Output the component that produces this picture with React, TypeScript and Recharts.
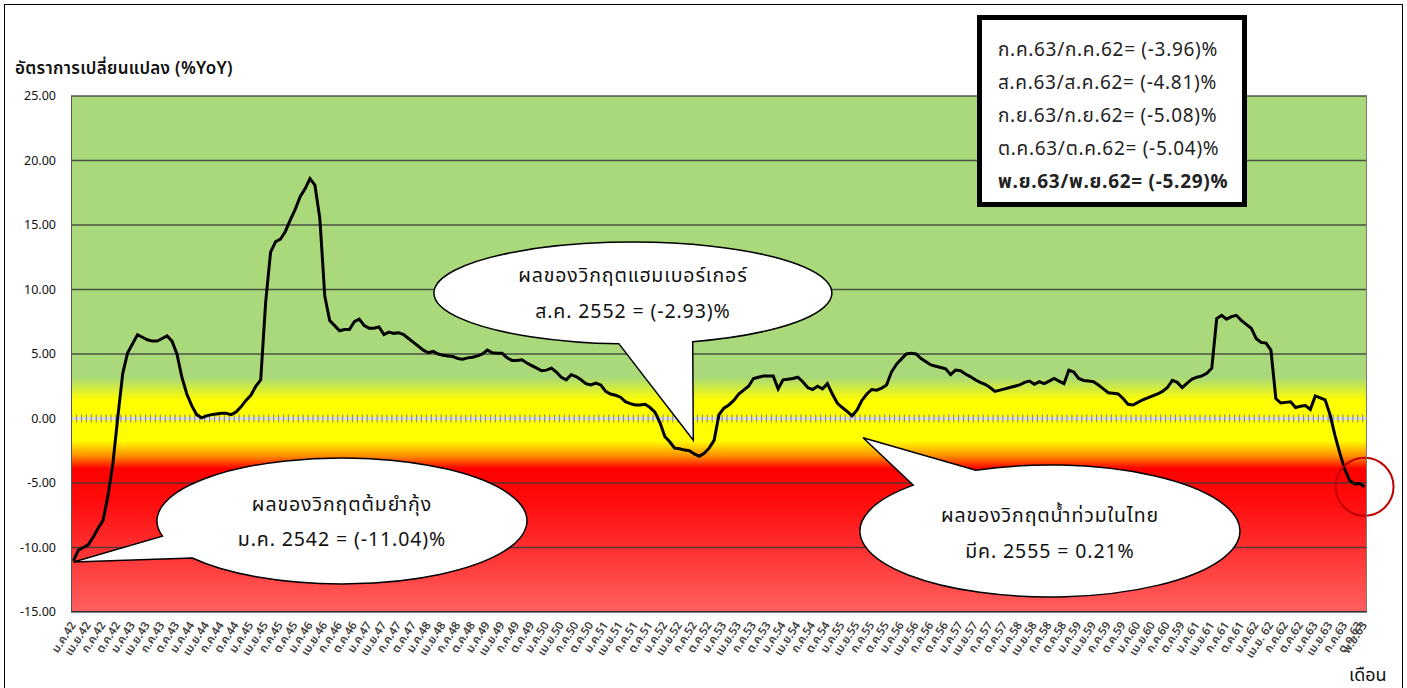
import React from "react";
import {
  LineChart,
  Line,
  XAxis,
  YAxis,
  CartesianGrid,
  ReferenceLine,
  ReferenceDot,
} from "recharts";

const FONT = "Tahoma, 'Noto Sans Thai', 'Leelawadee UI', 'Noto Sans', sans-serif";

const monthAbbr = ["ม.ค.", "ก.พ.", "มี.ค.", "เม.ย.", "พ.ค.", "มิ.ย.", "ก.ค.", "ส.ค.", "ก.ย.", "ต.ค.", "พ.ย.", "ธ.ค."];

// months ม.ค.42 .. พ.ย.63
const categories: string[] = [];
for (let y = 42; y <= 63; y++) {
  for (let m = 0; m < 12; m++) {
    if (y === 63 && m > 10) break;
    categories.push(`${monthAbbr[m]}${y}`);
  }
}

// %YoY
const yoy = [
  -11.04, -10.2, -10.0, -9.8, -9.2, -8.5, -7.9, -6.0, -3.5, 0.1,
  3.5, 5.1, 5.8, 6.5, 6.3, 6.1, 6.0, 6.0, 6.2, 6.4,
  6.0, 5.0, 3.2, 1.9, 1.0, 0.3, 0.05, 0.2, 0.3, 0.35,
  0.4, 0.4, 0.3, 0.5, 0.9, 1.4, 1.8, 2.5, 3.0, 9.0,
  12.9, 13.7, 13.9, 14.5, 15.4, 16.2, 17.2, 17.8, 18.6, 18.1,
  15.5, 9.5, 7.6, 7.2, 6.8, 6.9, 6.9, 7.5, 7.7, 7.2,
  7.0, 7.0, 7.1, 6.5, 6.7, 6.6, 6.65, 6.5, 6.2, 5.9,
  5.6, 5.3, 5.1, 5.2, 5.0, 4.9, 4.85, 4.8, 4.65, 4.6,
  4.7, 4.75, 4.85, 5.0, 5.3, 5.1, 5.05, 5.05, 4.7, 4.5,
  4.5, 4.55, 4.3, 4.1, 3.9, 3.7, 3.75, 3.9, 3.6, 3.2,
  3.0, 3.4, 3.25, 3.0, 2.7, 2.6, 2.75, 2.6, 2.1, 1.9,
  1.8, 1.65, 1.3, 1.15, 1.05, 1.05, 1.1, 0.85, 0.5, -0.3,
  -1.4, -1.8, -2.3, -2.35, -2.45, -2.5, -2.75, -2.93, -2.7, -2.3,
  -1.7, 0.3, 0.8, 1.05, 1.4, 1.9, 2.2, 2.5, 3.1, 3.2,
  3.3, 3.3, 3.3, 2.3, 3.0, 3.05, 3.1, 3.2, 2.85, 2.4,
  2.25, 2.5, 2.3, 2.7, 1.9, 1.2, 0.85, 0.55, 0.21, 0.65,
  1.4, 1.9, 2.25, 2.2, 2.35, 2.6, 3.6, 4.2, 4.6, 5.0,
  5.05, 5.0, 4.65, 4.4, 4.15, 4.05, 3.95, 3.85, 3.4, 3.75,
  3.7, 3.45, 3.25, 3.0, 2.8, 2.65, 2.4, 2.1, 2.2, 2.3,
  2.4, 2.5, 2.6, 2.8, 2.9, 2.65, 2.85, 2.7, 2.9, 3.1,
  2.9, 2.7, 3.75, 3.6, 3.1, 2.95, 2.9, 2.85, 2.6, 2.3,
  2.0, 1.95, 1.9, 1.55, 1.1, 1.05, 1.25, 1.45, 1.6, 1.75,
  1.9, 2.1, 2.4, 2.95, 2.8, 2.4, 2.75, 3.05, 3.2, 3.3,
  3.5, 3.9, 7.75, 8.0, 7.7, 7.9, 8.0, 7.6, 7.3, 7.0,
  6.2, 5.9, 5.85, 5.3, 1.55, 1.2, 1.25, 1.3, 0.85, 0.95,
  1.0, 0.7, 1.75, 1.6, 1.45, 0.3, -1.3, -2.7, -3.96, -4.81,
  -5.08, -5.04, -5.29,
];

// quarterly labels as printed (typos kept)
const tickLabels = [
  "ม.ค.42", "เม.ย.42", "ก.ค.42", "ต.ค.42", "ม.ค.43", "เม.ย.43", "ก.ค.43", "ต.ค.43",
  "ม.ค.44", "เม.ย.44", "ก.ค.44", "ต.ค.44", "ม.ค.45", "เม.ย.45", "ก.ค.45", "ต.ค.45",
  "ม.ค.46", "เม.ย.46", "ก.ค.46", "ต.ค.46", "ม.ค.47", "เม.ย.47", "ก.ค.47", "ต.ค.47",
  "ม.ค.48", "เม.ย.48", "ก.ค.48", "ต.ค.48", "ม.ค.49", "เม.ย.49", "ก.ค.49", "ต.ค.49",
  "ม.ค.50", "เม.ย.50", "ก.ค.50", "ต.ค.50", "ม.ค.51", "เม.ย.51", "ก.ค.51", "ต.ค.51",
  "ม.ค.52", "เม.ย.52", "ก.ค.52", "ต.ค.52", "ม.ค.53", "เม.ย.53", "ก.ค.53", "ต.ค.53",
  "ม.ค.54", "เม.ย.54", "ก.ค.54", "ต.ค.54", "ม.ค.55", "เม.ย.55", "ก.ค.55", "ต.ค.55",
  "ม.ค.56", "เม.ย.56", "ก.ค.56", "ต.ค.56", "ม.ค.57", "เม.ย.57", "ก.ค.57", "ต.ค.57",
  "ม.ค.58", "เม.ย.58", "ก.ค.58", "ต.ค.58", "ม.ค.59", "เม.ย.59", "ก.ค.59", "ต.ค.59",
  "ม.ค.60", "เม.ย.60", "ก.ค.60", "ต.ค.59", "ม.ค.61", "เม.ย.61", "ก.ค.61", "ต.ค.61",
  "ม.ค.62", "เม.ย. 62", "ก.ค.62", "ต.ค.62", "ม.ค.63", "เม.ย.63", "ก.ค.63", "ต.ค.63",
  "พ.ย.63",
];

const yTicks = [-15, -10, -5, 0, 5, 10, 15, 20, 25];

const boxLines = [
  "ก.ค.63/ก.ค.62= (-3.96)%",
  "ส.ค.63/ส.ค.62= (-4.81)%",
  "ก.ย.63/ก.ย.62= (-5.08)%",
  "ต.ค.63/ต.ค.62= (-5.04)%",
  "พ.ย.63/พ.ย.62= (-5.29)%",
];

const data = categories.map((m, i) => ({ m, v: yoy[i] }));

const tickLabelAt = (i: number) => {
  if (i === categories.length - 1) return tickLabels[tickLabels.length - 1];
  if (i % 3 === 0) return tickLabels[i / 3];
  return null;
};

const XTick = (props: any) => {
  const { x, y, payload } = props;
  const idx = categories.indexOf(payload.value);
  const label = tickLabelAt(idx);
  if (!label) return <g />;
  const ax = x + 3;
  const ay = y + 5;
  return (
    <text
      x={ax}
      y={ay}
      transform={`rotate(-57 ${ax} ${ay})`}
      textAnchor="end"
      fontSize={11.5}
      fontWeight={600}
      fontFamily={FONT}
      fill="#404040"
    >
      {label}
    </text>
  );
};

const YTick = (props: any) => {
  const { x, y, payload } = props;
  return (
    <text x={x} y={y} dy="0.35em" textAnchor="end" fontSize={12.5} fontFamily={FONT} fill="#111">
      {Number(payload.value).toFixed(2)}
    </text>
  );
};

type Bubble = {
  ox: number; oy: number; rx: number; ry: number;
  a1: number; a2: number; tdx: number; tdy: number;
  lines: string[]; l1: number; l2: number; tx: number;
};

const bubbleShape = (b: Bubble) => (props: any) => {
  const { cx, cy } = props;
  if (cx == null || cy == null) return <g />;
  const ex = cx + b.ox;
  const ey = cy + b.oy;
  const tx = cx + b.tdx;
  const ty = cy + b.tdy;
  const pt = (a: number) => [ex + b.rx * Math.cos((a * Math.PI) / 180), ey + b.ry * Math.sin((a * Math.PI) / 180)];
  const [x1, y1] = pt(b.a1);
  const [x2, y2] = pt(b.a2);
  const d = `M${x2},${y2} A${b.rx},${b.ry} 0 1 1 ${x1},${y1} L${tx},${ty} Z`;
  const txt = { textAnchor: "middle" as const, fontSize: 19.5, fontFamily: FONT, fill: "#111", letterSpacing: 0.9 };
  return (
    <g>
      <path d={d} fill="#fff" stroke="#000" strokeWidth={1.5} />
      <text x={ex + b.tx} y={ey + b.l1} {...txt}>
        {b.lines[0]}
      </text>
      <text x={ex + b.tx} y={ey + b.l2} {...txt}>
        {b.lines[1]}
      </text>
    </g>
  );
};

const bubble1: Bubble = {
  ox: 268.5, oy: -40, rx: 185, ry: 63, a1: 144, a2: 166, tdx: 0, tdy: 1,
  lines: ["ผลของวิกฤตต้มยำกุ้ง", "ม.ค. 2542 = (-11.04)%"], l1: -10, l2: 25, tx: 0,
};
const bubble2: Bubble = {
  ox: -66.4, oy: -163.3, rx: 199, ry: 51, a1: 72.5, a2: 94, tdx: -6, tdy: -16,
  lines: ["ผลของวิกฤตแฮมเบอร์เกอร์", "ส.ค. 2552 = (-2.93)%"], l1: -11, l2: 25, tx: 0,
};
const bubble3: Bubble = {
  ox: 197.9, oy: 115.2, rx: 190, ry: 66, a1: 224, a2: 247, tdx: 11, tdy: 22,
  lines: ["ผลของวิกฤตน้ำท่วมในไทย", "มีค. 2555 = 0.21%"], l1: -9, l2: 27, tx: 0,
};

export default function App() {
  const plotW = 1296;
  const band = plotW / categories.length;
  return (
    <div
      style={{
        position: "absolute",
        left: 0,
        top: 0,
        width: 1407,
        height: 688,
        background: "#fff",
        overflow: "hidden",
        fontFamily: FONT,
      }}
    >
      <div
        style={{
          position: "absolute",
          left: 4,
          top: 4,
          width: 1397,
          height: 700,
          border: "1px solid #000",
        }}
      />
      <div
        style={{
          position: "absolute",
          left: 15,
          top: 56,
          fontSize: 17,
          fontWeight: 600,
          letterSpacing: 0.3,
          color: "#111",
          whiteSpace: "nowrap",
        }}
      >
        อัตราการเปลี่ยนแปลง (%YoY)
      </div>
      <div style={{ position: "absolute", left: 1349, top: 662, fontSize: 18, color: "#111" }}>เดือน</div>

      <div style={{ position: "absolute", left: 0, top: 0 }}>
        <LineChart width={1407} height={688} data={data} margin={{ top: 96, right: 40, bottom: 0, left: 0 }}>
          <defs>
            <linearGradient id="bgGrad" x1="0" y1="0" x2="0" y2="1">
              <stop offset="0" stopColor="#A9D97A" />
              <stop offset="0.545" stopColor="#A9D97A" />
              <stop offset="0.59" stopColor="#FFFF00" />
              <stop offset="0.668" stopColor="#FFFF00" />
              <stop offset="0.698" stopColor="#FF8C00" />
              <stop offset="0.722" stopColor="#FF0000" />
              <stop offset="0.78" stopColor="#FF0A0A" />
              <stop offset="1" stopColor="#FF6060" />
            </linearGradient>
          </defs>
          <CartesianGrid vertical={false} fill="url(#bgGrad)" stroke="#3a3a3a" strokeOpacity={0.85} strokeWidth={1.3} />
          <XAxis
            dataKey="m"
            interval={0}
            axisLine={false}
            tickLine={false}
            height={76}
            padding={{ left: band / 2, right: band / 2 }}
            tick={<XTick />}
          />
          <YAxis
            type="number"
            domain={[-15, 25]}
            ticks={yTicks}
            width={71}
            axisLine={false}
            tickLine={false}
            tickMargin={9}
            tick={<YTick />}
          />
          <ReferenceLine y={0} stroke="#dcdcdc" strokeWidth={3} />
          <ReferenceLine y={0} stroke="#8f8f8f" strokeWidth={8} strokeDasharray={`1.2 ${band - 1.2}`} />
          <Line
            type="linear"
            dataKey="v"
            stroke="#000"
            strokeWidth={3}
            dot={false}
            activeDot={false}
            isAnimationActive={false}
          />
          <ReferenceDot x={categories[0]} y={yoy[0]} r={1} ifOverflow="visible" shape={bubbleShape(bubble1)} />
          <ReferenceDot x={categories[127]} y={yoy[127]} r={1} ifOverflow="visible" shape={bubbleShape(bubble2)} />
          <ReferenceDot x={categories[158]} y={yoy[158]} r={1} ifOverflow="visible" shape={bubbleShape(bubble3)} />
          <ReferenceDot
            x={categories[categories.length - 1]}
            y={yoy[yoy.length - 1]}
            r={29}
            fill="none"
            stroke="#C00000"
            strokeWidth={2}
            ifOverflow="visible"
          />
        </LineChart>
      </div>

      <div
        style={{
          position: "absolute",
          left: 71,
          top: 96,
          width: plotW,
          height: 516,
          boxSizing: "border-box",
          borderLeft: "1px solid #555",
          borderRight: "1px solid #777",
          borderBottom: "1px solid #333",
          pointerEvents: "none",
        }}
      />

      <div
        style={{
          position: "absolute",
          left: 977,
          top: 15,
          width: 270,
          height: 192,
          boxSizing: "border-box",
          border: "5px solid #000",
          background: "#fff",
          paddingTop: 14,
          paddingLeft: 16,
        }}
      >
        {boxLines.map((t, i) => (
          <div
            key={t}
            style={{
              fontSize: 19,
              lineHeight: "33px",
              height: 33,
              letterSpacing: 0.7,
              color: "#222",
              fontWeight: i === boxLines.length - 1 ? 700 : 400,
              whiteSpace: "nowrap",
            }}
          >
            {t}
          </div>
        ))}
      </div>
    </div>
  );
}
